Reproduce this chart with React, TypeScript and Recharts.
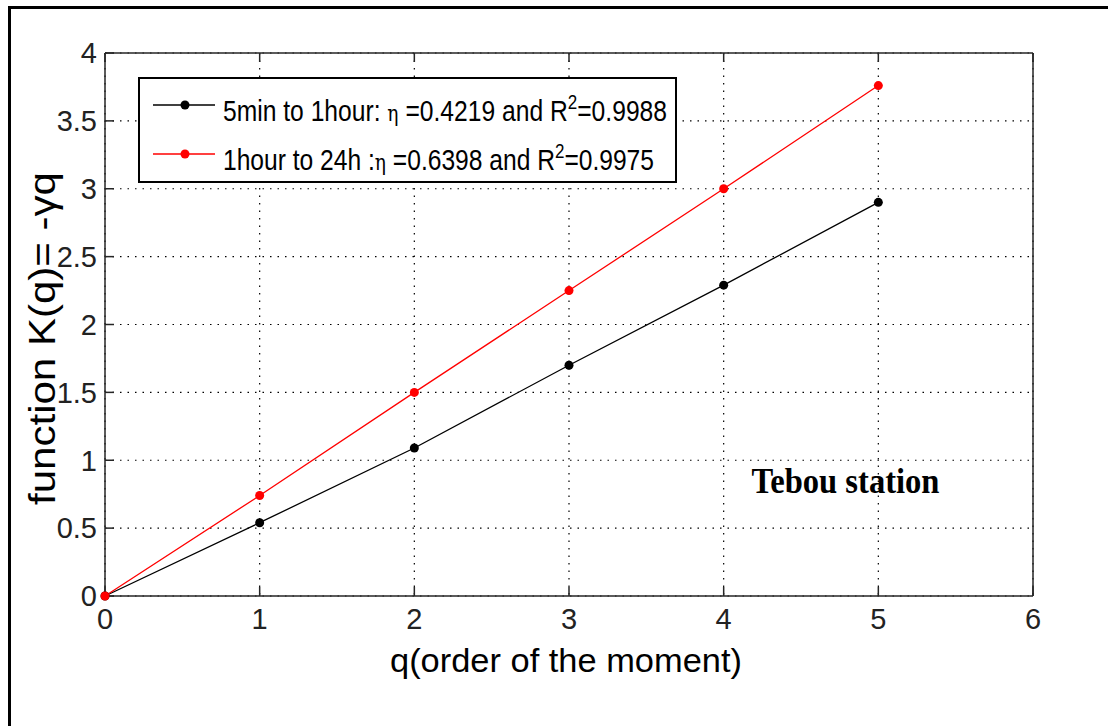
import React from "react"
import {
  LineChart,
  Line,
  XAxis,
  YAxis,
  CartesianGrid,
  Legend,
  ReferenceDot,
  Label,
} from "recharts"

// order of the moment q
const qValues = [0, 1, 2, 3, 4, 5]
// K(q) for 5min -> 1hour
const shortScaleK = [0, 0.54, 1.09, 1.7, 2.29, 2.9]
// K(q) for 1hour -> 24h
const longScaleK = [0, 0.74, 1.5, 2.25, 3.0, 3.76]

const xTicks = [0, 1, 2, 3, 4, 5, 6]
const yTicks = [0, 0.5, 1, 1.5, 2, 2.5, 3, 3.5, 4]

const seriesNames = [
  "5min to 1hour: η =0.4219 and R²=0.9988",
  "1hour to 24h :η =0.6398 and R²=0.9975",
]

const data = qValues.map((q, i) => ({
  q,
  short: shortScaleK[i],
  long: longScaleK[i],
}))

const FONT = "'Liberation Sans', Arial, Helvetica, sans-serif"
const AXIS = "#262626"

const NoTick = () => <g />

const XTitle = ({ viewBox }: any) => (
  <text
    x={viewBox.x + viewBox.width / 2 - 3}
    y={viewBox.y + 76}
    textAnchor="middle"
    fontFamily={FONT}
    fontSize={33}
    fill="#000"
    textLength={352}
    lengthAdjust="spacingAndGlyphs"
  >
    q(order of the moment)
  </text>
)

const YTitle = ({ viewBox }: any) => {
  const cx = 55
  const cy = viewBox.y + viewBox.height / 2 + 14
  return (
    <text
      x={cx}
      y={cy}
      transform={`rotate(-90 ${cx} ${cy})`}
      textAnchor="middle"
      fontFamily={FONT}
      fontSize={37}
      fill="#000"
      textLength={333}
      lengthAdjust="spacingAndGlyphs"
    >
      function K(q)= -γq
    </text>
  )
}

const StationLabel = ({ viewBox }: any) => (
  <text
    x={viewBox.x}
    y={viewBox.y}
    fontFamily="'Liberation Serif', 'Times New Roman', serif"
    fontWeight="bold"
    fontSize={36}
    fill="#000"
    textLength={188}
    lengthAdjust="spacingAndGlyphs"
  >
    Tebou station
  </text>
)

const LegendRow = ({ y, color, parts, len }: any) => (
  <g>
    <line x1={13} x2={75} y1={y} y2={y} stroke={color} strokeWidth={1.5} />
    <circle cx={45} cy={y} r={4.5} fill={color} />
    <text
      x={83}
      y={y + 16}
      fontFamily={FONT}
      fontSize={29}
      fill="#000"
      textLength={len}
      lengthAdjust="spacingAndGlyphs"
    >
      {parts[0]}
      <tspan fontFamily="'DejaVu Serif', serif" fontSize={22}>η</tspan>
      {parts[1]}
      <tspan dy={-12} fontSize={20}>2</tspan>
      <tspan dy={12}>{parts[2]}</tspan>
    </text>
  </g>
)

const BoxLegend = () => (
  <div
    style={{
      width: 539,
      height: 106,
      boxSizing: "border-box",
      border: "2px solid #000",
      background: "#fff",
    }}
  >
    <svg width={535} height={102} style={{ display: "block" }}>
      <LegendRow
        y={26}
        color="#000"
        parts={["5min to 1hour: ", " =0.4219 and R", "=0.9988"]}
        len={444}
      />
      <LegendRow
        y={75}
        color="#ff0000"
        parts={["1hour to 24h :", " =0.6398 and R", "=0.9975"]}
        len={431}
      />
    </svg>
  </div>
)

export default function App() {
  return (
    <div
      style={{
        position: "absolute",
        left: 0,
        top: 0,
        width: 1108,
        height: 726,
        overflow: "hidden",
        background: "#fff",
      }}
    >
      {/* outer figure frame: only left and top edges show */}
      <div
        style={{
          position: "absolute",
          left: 8,
          top: 6,
          width: 3,
          height: 720,
          background: "#000",
        }}
      />
      <div
        style={{
          position: "absolute",
          left: 8,
          top: 6,
          width: 1100,
          height: 3,
          background: "#000",
        }}
      />
      <div style={{ position: "absolute", left: 0, top: 0 }}>
        <LineChart
          width={1108}
          height={726}
          data={data}
          margin={{ top: 52, right: 74, bottom: 90, left: 15 }}
        >
          <CartesianGrid
            stroke="#000"
            strokeDasharray="1.5 6"
            strokeWidth={1.2}
            horizontalValues={yTicks}
            verticalValues={xTicks}
          />
          <XAxis
            dataKey="q"
            type="number"
            domain={[0, 6]}
            ticks={xTicks}
            interval={0}
            height={40}
            stroke={AXIS}
            strokeWidth={1.5}
            tickSize={-9}
            tickMargin={21}
            tick={{ fill: "#222", fontSize: 29, fontFamily: FONT }}
          >
            <Label content={<XTitle />} />
          </XAxis>
          <XAxis
            xAxisId="top"
            orientation="top"
            dataKey="q"
            type="number"
            domain={[0, 6]}
            ticks={xTicks}
            interval={0}
            height={1}
            stroke={AXIS}
            strokeWidth={1.5}
            tickSize={-9}
            tick={NoTick}
          />
          <YAxis
            type="number"
            domain={[0, 4]}
            ticks={yTicks}
            interval={0}
            width={90}
            stroke={AXIS}
            strokeWidth={1.5}
            tickSize={-9}
            tickMargin={17}
            tick={{ fill: "#222", fontSize: 29, fontFamily: FONT }}
          >
            <Label content={<YTitle />} />
          </YAxis>
          <YAxis
            yAxisId="right"
            orientation="right"
            type="number"
            domain={[0, 4]}
            ticks={yTicks}
            interval={0}
            width={1}
            stroke={AXIS}
            strokeWidth={1.5}
            tickSize={-9}
            tick={NoTick}
          />
          <Line
            dataKey="short"
            name={seriesNames[0]}
            stroke="#000"
            strokeWidth={1.3}
            dot={{ r: 4.5, fill: "#000", stroke: "#000", strokeWidth: 0 }}
            isAnimationActive={false}
          />
          <Line
            dataKey="long"
            name={seriesNames[1]}
            stroke="#ff0000"
            strokeWidth={1.3}
            dot={{ r: 4.5, fill: "#ff0000", stroke: "#ff0000", strokeWidth: 0 }}
            isAnimationActive={false}
          />
          <ReferenceDot
            x={4.18}
            y={0.76}
            r={0}
            fill="none"
            stroke="none"
            label={<StationLabel />}
          />
          <Legend
            layout="vertical"
            align="center"
            verticalAlign="middle"
            content={<BoxLegend />}
            wrapperStyle={{ left: 138, top: 77, width: 539, height: 106 }}
          />
        </LineChart>
      </div>
    </div>
  )
}
